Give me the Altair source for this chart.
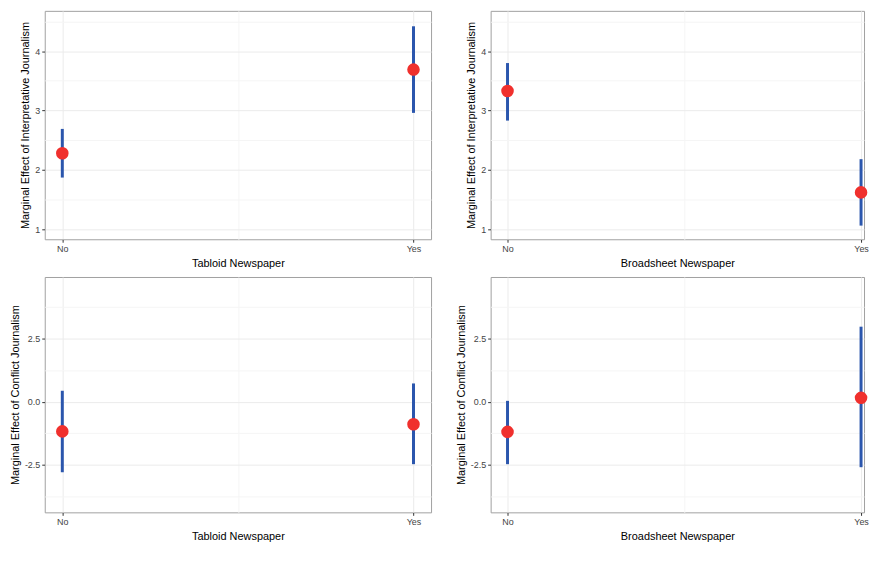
import altair as alt
import pandas as pd

# ---- data ----
x_pos = [0, 1]                      # No / Yes
x_major_labels = ["No", "Yes"]

tab_interp_est = [2.28, 3.69]
tab_interp_lo = [1.87, 2.96]
tab_interp_hi = [2.69, 4.42]

brd_interp_est = [3.33, 1.62]
brd_interp_lo = [2.83, 1.06]
brd_interp_hi = [3.80, 2.18]

tab_conf_est = [-1.17, -0.89]
tab_conf_lo = [-2.79, -2.47]
tab_conf_hi = [0.44, 0.73]

brd_conf_est = [-1.19, 0.16]
brd_conf_lo = [-2.47, -2.59]
brd_conf_hi = [0.04, 2.98]

interp_major = [1, 2, 3, 4]
interp_major_labels = ["1", "2", "3", "4"]
interp_grid = [1, 1.5, 2, 2.5, 3, 3.5, 4, 4.5]
interp_domain = [0.83, 4.68]

conf_major = [-2.5, 0, 2.5]
conf_major_labels = ["-2.5", "0.0", "2.5"]
conf_grid = [-3.75, -2.5, -1.25, 0, 1.25, 2.5, 3.75]
conf_domain = [-4.38, 4.95]

x_grid = [0, 0.5, 1]
# left column: full panels; right column: panels cut by the right page edge
x_domain_left = [-0.05, 1.05]
x_domain_right = [-0.04775, 1.00843]
W_LEFT = 389
W_RIGHT = 376
H_TOP = 230
H_BOT = 237

MAJOR = "#ebebeb"
MINOR = "#f5f5f5"
RED = "#f0302d"
BLUE = "#2b56ad"
FONT = "Liberation Sans"


def label_expr(values, labels):
    expr = "''"
    for v, l in zip(reversed(values), reversed(labels)):
        expr = f"(abs(datum.value - ({v})) < 1e-9 ? '{l}' : {expr})"
    return expr


def major_test(values):
    return " || ".join(f"abs(datum.value - ({v})) < 1e-9" for v in values)


def panel(est, lo, hi, xtitle, ytitle, ymajor, ylabels, ygrid, ydomain, height, xdomain, width):
    df = pd.DataFrame({"x": x_pos, "est": est, "lo": lo, "hi": hi})
    xaxis = alt.Axis(
        values=x_grid,
        labelExpr=label_expr(x_pos, x_major_labels),
        tickOpacity={"condition": {"test": major_test(x_pos), "value": 1}, "value": 0},
        gridColor={"condition": {"test": major_test(x_pos), "value": MAJOR}, "value": MINOR},
        title=xtitle,
    )
    yaxis = alt.Axis(
        values=ygrid,
        labelExpr=label_expr(ymajor, ylabels),
        tickOpacity={"condition": {"test": major_test(ymajor), "value": 1}, "value": 0},
        gridColor={"condition": {"test": major_test(ymajor), "value": MAJOR}, "value": MINOR},
        title=ytitle,
    )
    xs = alt.X("x:Q", scale=alt.Scale(domain=xdomain, nice=False, zero=False), axis=xaxis)
    ys = alt.Scale(domain=ydomain, nice=False, zero=False)
    rule = alt.Chart(df).mark_rule(color=BLUE, strokeWidth=3).encode(
        x=xs,
        y=alt.Y("lo:Q", scale=ys, axis=yaxis),
        y2="hi:Q",
    )
    pts = alt.Chart(df).mark_circle(color=RED, opacity=1, size=160).encode(
        x=xs,
        y=alt.Y("est:Q", scale=ys, axis=yaxis),
    )
    return alt.layer(rule, pts).properties(width=width, height=height)


p1 = panel(tab_interp_est, tab_interp_lo, tab_interp_hi, "Tabloid Newspaper",
           "Marginal Effect of Interpretative Journalism",
           interp_major, interp_major_labels, interp_grid, interp_domain, H_TOP,
           x_domain_left, W_LEFT)
p2 = panel(brd_interp_est, brd_interp_lo, brd_interp_hi, "Broadsheet Newspaper",
           "Marginal Effect of Interpretative Journalism",
           interp_major, interp_major_labels, interp_grid, interp_domain, H_TOP,
           x_domain_right, W_RIGHT)
p3 = panel(tab_conf_est, tab_conf_lo, tab_conf_hi, "Tabloid Newspaper",
           "Marginal Effect of Conflict Journalism",
           conf_major, conf_major_labels, conf_grid, conf_domain, H_BOT,
           x_domain_left, W_LEFT)
p4 = panel(brd_conf_est, brd_conf_lo, brd_conf_hi, "Broadsheet Newspaper",
           "Marginal Effect of Conflict Journalism",
           conf_major, conf_major_labels, conf_grid, conf_domain, H_BOT,
           x_domain_right, W_RIGHT)

chart = alt.concat(p1, p2, p3, p4, columns=2, spacing={"row": 7, "column": 22}).properties(
    padding=0, background="white"
).configure_view(
    stroke="#a0a0a0", strokeWidth=1, fill="white"
).configure_axis(
    labelFont=FONT, titleFont=FONT, labelFontSize=9, titleFontSize=11,
    labelColor="#444444", titleColor="#000000", titleFontWeight="normal",
    tickColor="#333333", tickSize=3, domain=False, labelPadding=2, titlePadding=4,
    gridWidth=1, labelOverlap=False, labelFlush=False,
)

chart.save("out.html", embed_options={"renderer": "svg", "actions": False})
